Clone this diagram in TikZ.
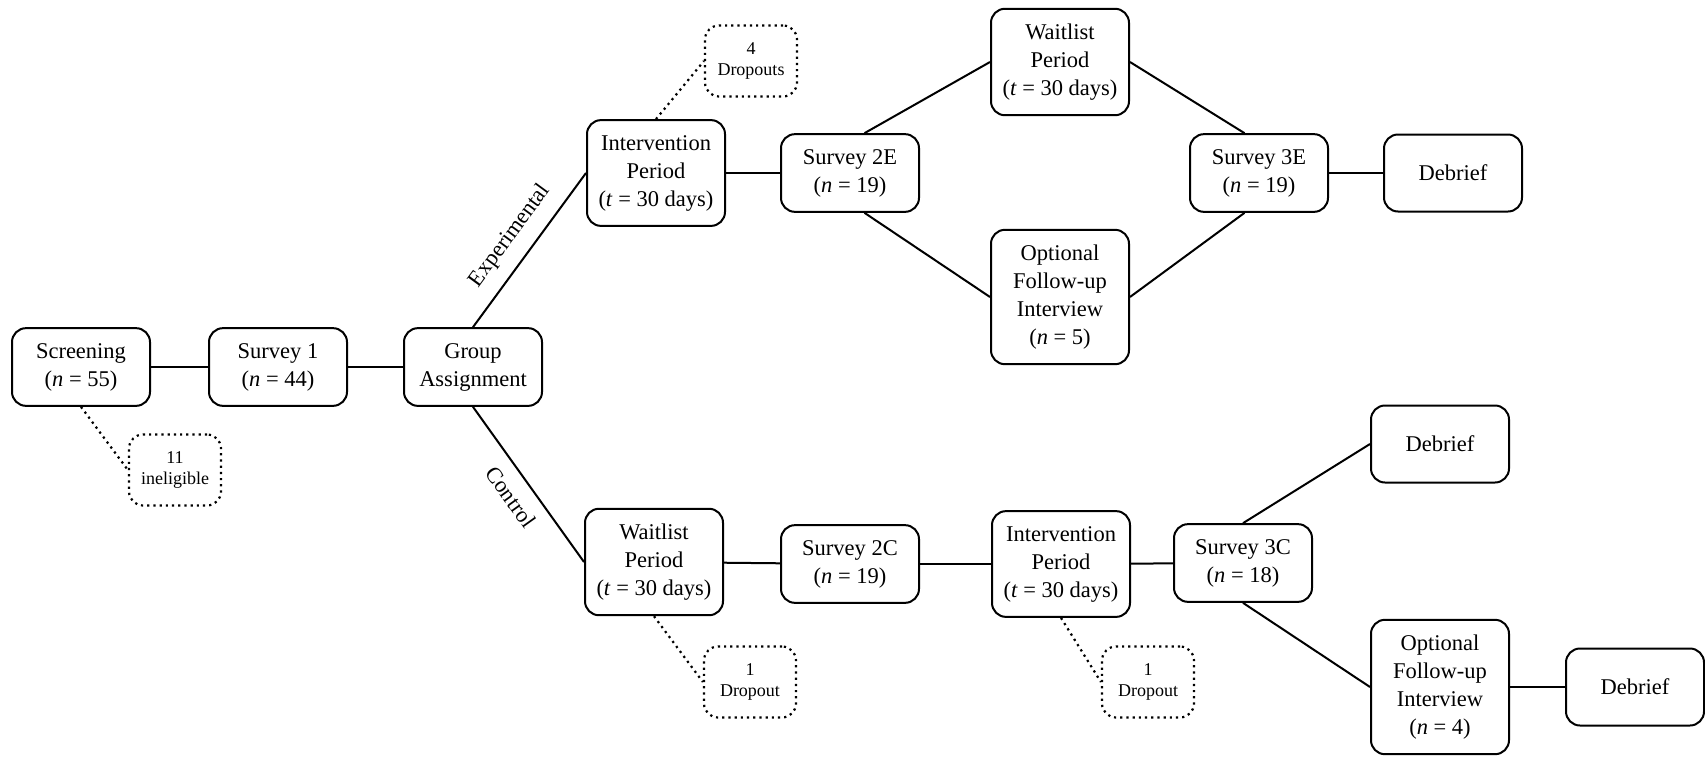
\documentclass[tikz,border=0pt]{standalone}
\usepackage{fontspec}
\setmainfont{Liberation Serif}

\begin{document}
\begin{tikzpicture}[x=0.5pt,y=-0.5pt,
  box/.style={rectangle,draw,line width=1pt,rounded corners=7pt,minimum width=69pt,minimum height=38.5pt,inner xsep=3pt,inner ysep=7.5pt,align=center,font=\fontsize{11.25}{14}\selectfont},
  drop/.style={rectangle,draw,dotted,line width=1.1pt,rounded corners=7pt,minimum width=46pt,minimum height=35.5pt,inner sep=2pt,align=center,font=\fontsize{9}{10.7}\selectfont},
  ln/.style={line width=1pt},
  dl/.style={dotted,line width=1.1pt},
  lab/.style={font=\fontsize{11.25}{14}\selectfont,sloped}]
\useasboundingbox (0,0) rectangle (1705,756);

% common start
\node[box] (screen) at (81,367) {Screening\\(\textit{n} = 55)};
\node[box] (surv1) at (278,367) {Survey 1\\(\textit{n} = 44)};
\node[box] (group) at (473,367) {Group\\Assignment};
\node[drop] (inel) at (175,470) {11\\ineligible};
\draw[ln] (screen)--(surv1); \draw[ln] (surv1)--(group);
\draw[dl] (screen.south)--(inel.west);

% experimental arm
\node[box] (intE) at (656,173) {Intervention\\Period\\(\textit{t} = 30 days)};
\node[drop] (drop4) at (751,61) {4\\Dropouts};
\node[box] (s2E) at (850,173) {Survey 2E\\(\textit{n} = 19)};
\node[box] (waitE) at (1060,62) {Waitlist\\Period\\(\textit{t} = 30 days)};
\node[box] (optE) at (1060,297) {Optional\\Follow-up\\Interview\\(\textit{n} = 5)};
\node[box] (s3E) at (1259,173) {Survey 3E\\(\textit{n} = 19)};
\node[box] (debE) at (1453,173) {Debrief};
\draw[ln] (group.north)--(intE.west) node[lab,midway,above=3pt] {Experimental};
\draw[dl] (intE.north)--(drop4.west);
\draw[ln] (intE)--(s2E);
\draw[ln] (s2E.70)--(waitE.west); \draw[ln] (s2E.-70)--(optE.west);
\draw[ln] (waitE.east)--(s3E.110); \draw[ln] (optE.east)--(s3E.250);
\draw[ln] (s3E)--(debE);

% control arm
\node[box] (waitC) at (654,562) {Waitlist\\Period\\(\textit{t} = 30 days)};
\node[drop] (dropC1) at (750,682) {1\\Dropout};
\node[box] (s2C) at (850,564) {Survey 2C\\(\textit{n} = 19)};
\node[box] (intC) at (1061,564) {Intervention\\Period\\(\textit{t} = 30 days)};
\node[drop] (dropC2) at (1148,682) {1\\Dropout};
\node[box] (s3C) at (1243,563) {Survey 3C\\(\textit{n} = 18)};
\node[box] (debC1) at (1440,444) {Debrief};
\node[box] (optC) at (1440,687) {Optional\\Follow-up\\Interview\\(\textit{n} = 4)};
\node[box] (debC2) at (1635,687) {Debrief};
\draw[ln] (group.south)--(waitC.west) node[lab,midway,below=3pt] {Control};
\draw[dl] (waitC.south)--(dropC1.west);
\draw[ln] (waitC)--(s2C); \draw[ln] (s2C)--(intC); \draw[ln] (intC)--(s3C);
\draw[dl] (intC.south)--(dropC2.west);
\draw[ln] (s3C.north)--(debC1.west); \draw[ln] (s3C.south)--(optC.west);
\draw[ln] (optC)--(debC2);
\end{tikzpicture}
\end{document}
